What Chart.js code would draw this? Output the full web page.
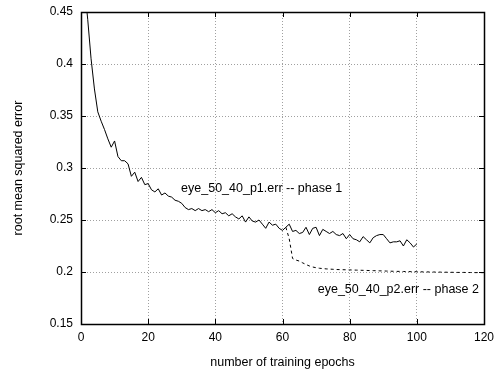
<!DOCTYPE html>
<html>
<head>
<meta charset="utf-8">
<script src="https://cdn.jsdelivr.net/npm/chart.js@4/dist/chart.umd.min.js"></script>
<style>
  html, body { margin: 0; padding: 0; background: #ffffff; }
  #wrap { width: 495px; height: 373px; position: relative; }
</style>
</head>
<body>
<div id="wrap"><canvas id="c" width="495" height="373"></canvas></div>
<script>
// ---- data ----
const phase1Label = "eye_50_40_p1.err -- phase 1";
const phase2Label = "eye_50_40_p2.err -- phase 2";
const phase1StartEpoch = 1;
const phase1Values = [
  0.475, 0.443, 0.405, 0.376, 0.354, 0.345, 0.337, 0.328, 0.320, 0.326,
  0.311, 0.307, 0.307, 0.304, 0.292, 0.296, 0.287, 0.291, 0.284, 0.285,
  0.279, 0.277, 0.280, 0.274, 0.276, 0.273, 0.272, 0.269, 0.268, 0.266,
  0.262, 0.260, 0.261, 0.259, 0.261, 0.259, 0.260, 0.258, 0.260, 0.257,
  0.259, 0.256, 0.257, 0.254, 0.256, 0.253, 0.251, 0.254, 0.248, 0.253,
  0.249, 0.248, 0.250, 0.246, 0.242, 0.248, 0.245, 0.246, 0.242, 0.240,
  0.243, 0.246, 0.239, 0.240, 0.237, 0.238, 0.243, 0.236, 0.242, 0.243,
  0.235, 0.241, 0.239, 0.237, 0.239, 0.236, 0.235, 0.237, 0.232, 0.236,
  0.232, 0.231, 0.229, 0.234, 0.231, 0.228, 0.233, 0.235, 0.236, 0.236,
  0.232, 0.228, 0.229, 0.229, 0.230, 0.225, 0.231, 0.228, 0.224, 0.227
];
const phase2StartEpoch = 61;
const phase2Values = [
  0.243, 0.232, 0.213, 0.2115, 0.2105, 0.2088, 0.2072, 0.2058, 0.2048, 0.2041,
  0.2036, 0.2033, 0.2030, 0.2028, 0.2026, 0.2024, 0.2023, 0.2022, 0.2021, 0.2020,
  0.2019, 0.2018, 0.2017, 0.2016, 0.2015, 0.2014, 0.2013, 0.2012, 0.2011, 0.2010,
  0.2009, 0.2008, 0.2007, 0.2006, 0.2006, 0.2005, 0.2004, 0.2004, 0.2003, 0.2003,
  0.2002, 0.2001, 0.2001, 0.2000, 0.2000, 0.1999, 0.1999, 0.1998, 0.1998, 0.1997,
  0.1997, 0.1996, 0.1996, 0.1996, 0.1995, 0.1995, 0.1994, 0.1994, 0.1994, 0.1993
];
const xTicks = [0, 20, 40, 60, 80, 100, 120];
const yTicks = [0.15, 0.2, 0.25, 0.3, 0.35, 0.4, 0.45];
const xTitle = "number of training epochs";
const yTitle = "root mean squared error";

// ---- build datasets ----
const toPoints = (start, vals) => vals.map((v, i) => ({ x: start + i, y: v }));

const FONT = '"Liberation Sans", Arial, Helvetica, sans-serif';
const TICK_SIZE = 12;
const TEXT_SIZE = 12.5;

const framePlugin = {
  id: 'frame',
  afterDraw(chart) {
    const { ctx, chartArea: a, scales } = chart;
    ctx.save();
    // inward tick marks, mirrored
    ctx.strokeStyle = '#000';
    ctx.lineWidth = 1;
    ctx.beginPath();
    const tl = 5;
    xTicks.forEach(t => {
      const px = Math.round(scales.x.getPixelForValue(t)) + 0.5;
      ctx.moveTo(px, a.bottom); ctx.lineTo(px, a.bottom - tl);
      ctx.moveTo(px, a.top); ctx.lineTo(px, a.top + tl);
    });
    yTicks.forEach(t => {
      const py = Math.round(scales.y.getPixelForValue(t)) + 0.5;
      ctx.moveTo(a.left, py); ctx.lineTo(a.left + tl, py);
      ctx.moveTo(a.right, py); ctx.lineTo(a.right - tl, py);
    });
    ctx.stroke();
    // frame
    ctx.lineWidth = 1.5;
    ctx.strokeRect(Math.round(a.left) + 0.5, Math.round(a.top) + 0.5,
                   Math.round(a.right - a.left), Math.round(a.bottom - a.top));
    // in-plot labels
    ctx.fillStyle = '#000';
    ctx.font = TEXT_SIZE + 'px ' + FONT;
    ctx.textAlign = 'left';
    ctx.textBaseline = 'middle';
    const labels = chart.options.plugins.frame.labels;
    labels.forEach(l => {
      ctx.fillText(l.text, scales.x.getPixelForValue(l.x), scales.y.getPixelForValue(l.y));
    });
    ctx.restore();
  }
};

new Chart(document.getElementById('c'), {
  type: 'line',
  data: {
    datasets: [
      {
        label: phase1Label,
        data: toPoints(phase1StartEpoch, phase1Values),
        borderColor: '#000',
        borderWidth: 1,
        pointRadius: 0,
        tension: 0,
        fill: false
      },
      {
        label: phase2Label,
        data: toPoints(phase2StartEpoch, phase2Values),
        borderColor: '#000',
        borderWidth: 1,
        borderDash: [3, 3],
        pointRadius: 0,
        tension: 0,
        fill: false
      }
    ]
  },
  options: {
    responsive: false,
    animation: false,
    devicePixelRatio: 1,
    layout: { padding: { left: 0, right: 11, top: 12, bottom: 0 } },
    plugins: {
      legend: { display: false },
      tooltip: { enabled: false },
      frame: {
        labels: [
          { text: phase1Label, x: 29.8, y: 0.2805 },
          { text: phase2Label, x: 70.5, y: 0.1828 }
        ]
      }
    },
    scales: {
      x: {
        type: 'linear',
        min: 0, max: 120,
        afterBuildTicks: s => { s.ticks = xTicks.map(v => ({ value: v })); },
        afterFit: s => { s.height = 49; s.paddingLeft = 0; s.paddingRight = 0; },
        grid: { color: '#a0a0a0', lineWidth: 1, drawTicks: false },
        border: { display: false, dash: [1, 2] },
        ticks: {
          color: '#000', padding: 6, maxRotation: 0,
          font: { family: FONT, size: TICK_SIZE },
          callback: v => String(v)
        },
        title: {
          display: true, text: xTitle, color: '#000',
          font: { family: FONT, size: TEXT_SIZE },
          padding: { top: 0, bottom: 3 }
        }
      },
      y: {
        type: 'linear',
        min: 0.15, max: 0.45,
        afterBuildTicks: s => { s.ticks = yTicks.map(v => ({ value: v })); },
        afterFit: s => { s.width = 81; s.paddingTop = 0; s.paddingBottom = 0; },
        grid: { color: '#a0a0a0', lineWidth: 1, drawTicks: false },
        border: { display: false, dash: [1, 2] },
        ticks: {
          color: '#000', padding: 8,
          font: { family: FONT, size: TICK_SIZE },
          callback: v => String(Number(v.toFixed(2)))
        },
        title: {
          display: true, text: yTitle, color: '#000',
          font: { family: FONT, size: TEXT_SIZE },
          padding: { top: 11, bottom: 0 }
        }
      }
    }
  },
  plugins: [framePlugin]
});
</script>
</body>
</html>
